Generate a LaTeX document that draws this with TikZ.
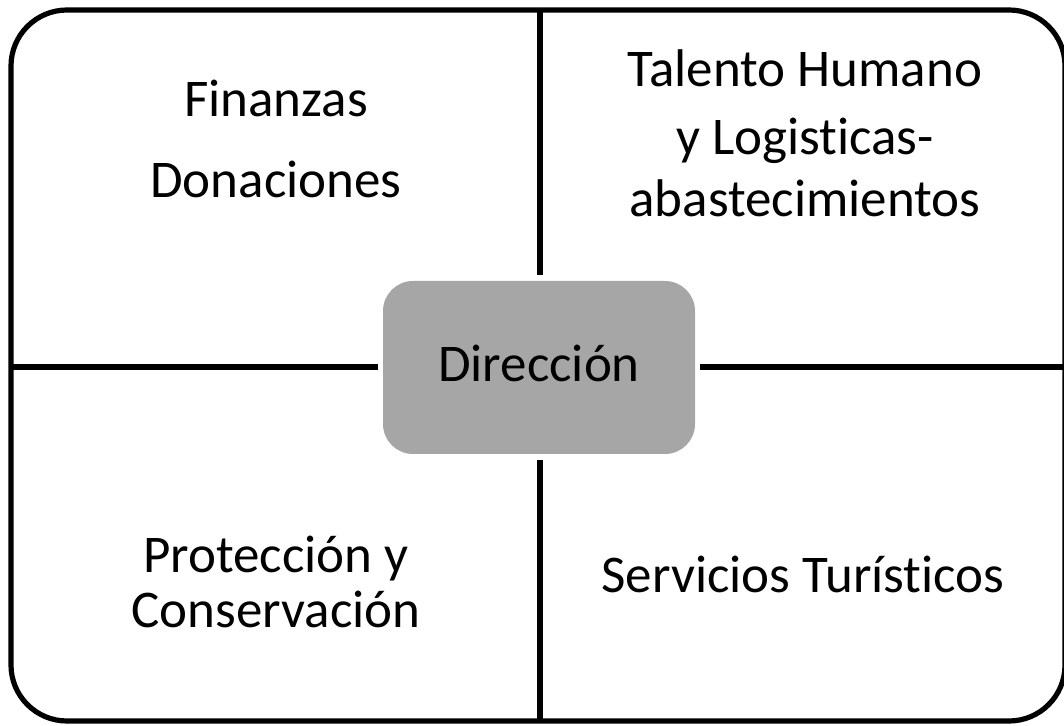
\documentclass[tikz,border=0pt]{standalone}
\usepackage{fontspec}
\setmainfont{Carlito}[Ligatures=NoCommon]
\usepackage{tikz}
\usetikzlibrary{positioning}

\begin{document}
\begin{tikzpicture}[
x=0.5pt, y=-0.5pt,
label/.style={anchor=base, inner sep=0pt, font=\fontsize{26.5}{30}\selectfont},
centre/.style={rectangle, rounded corners=15pt, fill=black!35, minimum width=156pt, minimum height=86.5pt, inner sep=0pt},
divider/.style={line width=2.6pt}
]
\useasboundingbox (0,0) rectangle (1064,726);

% outer frame
\draw[line width=2.6pt, rounded corners=28pt] (11,10) rectangle (1065,721);

% centre box
\node[centre] (dir) at (539,367.5) {};
\node[label] (dirtext) at (539,382) {Dirección};

% frame points
\coordinate (top) at (540,10);
\coordinate (bottom) at (540,721);
\coordinate (left) at (11,367);
\coordinate (right) at (1065,367);

\draw[divider, shorten >=3pt] (top) -- (top |- dir.north);
\draw[divider, shorten >=3pt] (bottom) -- (bottom |- dir.south);
\draw[divider, shorten >=2.5pt] (left) -- (left -| dir.west);
\draw[divider, shorten >=2.5pt] (right) -- (right -| dir.east);

% quadrant texts
\node[label] (fin) at (276,117) {Finanzas};
\node[label] (don) at (276,198) {Donaciones};
\node[label] (tal) at (805,87) {Talento Humano};
\node[label] (log) at (805,155) {y Logisticas-};
\node[label] (aba) at (805,217) {abastecimientos};
\node[label] (pro) at (276,572) {Protección y};
\node[label] (con) at (276,627) {Conservación};
\node[label] (ser) at (803,592) {Servicios Turísticos};

\end{tikzpicture}
\end{document}
